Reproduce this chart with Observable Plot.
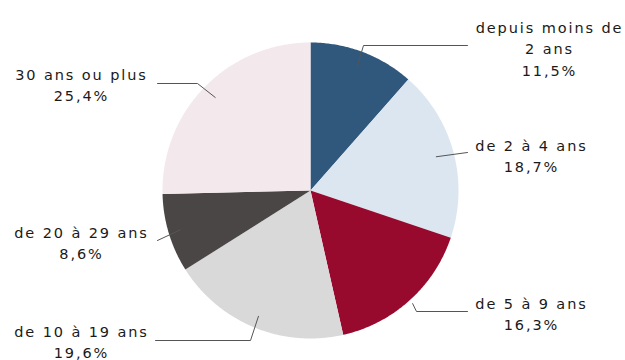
<!DOCTYPE html>
<html><head><meta charset="utf-8">
<script src="https://cdn.jsdelivr.net/npm/d3@7"></script>
<script src="https://cdn.jsdelivr.net/npm/@observablehq/plot@0.6"></script>
<style>
html,body{margin:0;padding:0;background:#fff;}
#chart{width:625px;height:360px;}
</style></head>
<body><div id="chart"></div>
<script>
// ---- data ----
const categories = ["depuis moins de 2 ans","de 2 à 4 ans","de 5 à 9 ans","de 10 à 19 ans","de 20 à 29 ans","30 ans ou plus"];
const labelTexts = ["depuis moins de\n2 ans","de 2 à 4 ans","de 5 à 9 ans","de 10 à 19 ans","de 20 à 29 ans","30 ans ou plus"];
const values = [11.5, 18.7, 16.3, 19.6, 8.6, 25.4];
const valueLabels = ["11,5%","18,7%","16,3%","19,6%","8,6%","25,4%"];
const colors = ["#30577c","#dce6f1","#980a2d","#d9d9d9","#4a4646","#f3e8ec"];

// ---- layout (pixels) ----
const W = 625, H = 360, CX = 310, CY = 190, R = 148;
const px = p => (p - CX) / R;      // pixel -> data x
const py = p => (CY - p) / R;      // pixel -> data y
// label block centres, leader inner radius factor, leader elbow & end
const labelPos = [[549,47],[531,154],[531,312],[81,340],[81,241],[81,83]];
const innerR = [0.89, 0.88, 1.03, 0.92, 0.92, 0.9];
const elbows = [[363,45],null,[416,311],[250,340],null,[197,83]];
const ends = [[467,45],[467,152],[467,311],[155,340],[157,240],[157,83]];

const pie = d3.pie().sort(null).value(d => d)(values);
const slicePts = [];
pie.forEach((a, i) => {
  slicePts.push({cat: categories[i], x: 0, y: 0});
  const n = Math.max(2, Math.ceil((a.endAngle - a.startAngle) / 0.01));
  for (let k = 0; k <= n; k++) {
    const t = a.startAngle + (a.endAngle - a.startAngle) * k / n;
    slicePts.push({cat: categories[i], x: Math.sin(t), y: Math.cos(t)});
  }
});

const leaderPts = [];
pie.forEach((a, i) => {
  const m = (a.startAngle + a.endAngle) / 2;
  leaderPts.push({i, x: innerR[i] * Math.sin(m), y: innerR[i] * Math.cos(m)});
  if (elbows[i]) leaderPts.push({i, x: px(elbows[i][0]), y: py(elbows[i][1])});
  leaderPts.push({i, x: px(ends[i][0]), y: py(ends[i][1])});
});

const labels = categories.map((c, i) => ({
  text: labelTexts[i] + "\n" + valueLabels[i],
  x: px(labelPos[i][0]), y: py(labelPos[i][1])
}));

const chart = Plot.plot({
  width: W, height: H, margin: 0,
  style: {fontFamily: "DejaVu Sans", fontSize: "14.5px", letterSpacing: "1.9px", background: "#fff", overflow: "visible"},
  x: {domain: [px(0), px(W)], range: [0, W], axis: null},
  y: {domain: [py(H), py(0)], range: [H, 0], axis: null},
  color: {type: "ordinal", domain: categories, range: colors},
  marks: [
    Plot.line(slicePts, {x: "x", y: "y", z: "cat", fill: "cat", stroke: "none", curve: "linear"}),
    Plot.line(leaderPts, {x: "x", y: "y", z: "i", stroke: "#555", strokeWidth: 1}),
    Plot.text(labels, {x: "x", y: "y", text: "text", textAnchor: "middle", lineAnchor: "middle", lineHeight: 1.5, fill: "#1a1a1a", fontSize: 14.5})
  ]
});
document.getElementById("chart").appendChild(chart);
</script></body></html>
